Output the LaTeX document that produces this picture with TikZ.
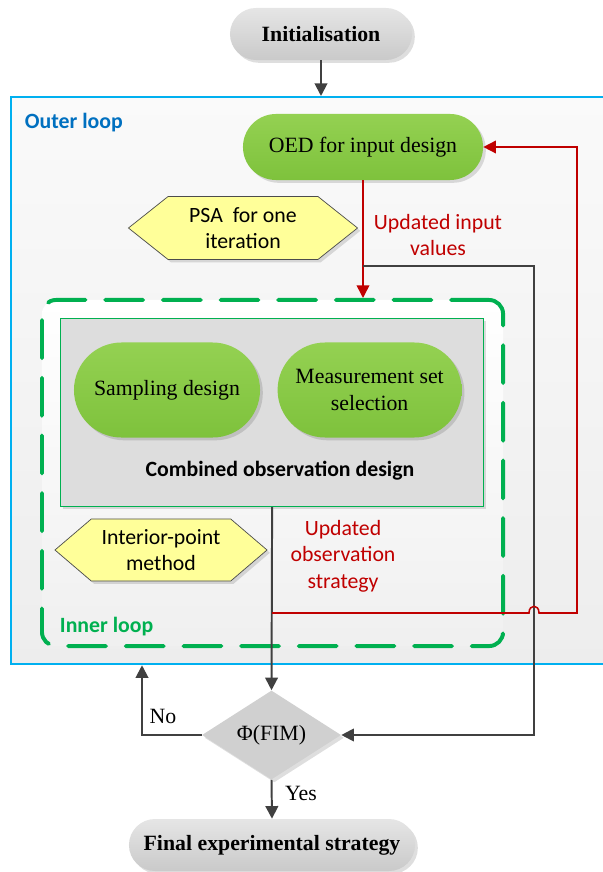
\documentclass[tikz,border=0pt]{standalone}
\usepackage{fontspec}
\setmainfont{Liberation Serif}
\setsansfont{Carlito}
\usepackage{tikz}
\usetikzlibrary{arrows.meta}
\usetikzlibrary{positioning}
\usetikzlibrary{shapes.misc}
\usetikzlibrary{shapes.geometric}
\usetikzlibrary{shapes.symbols}
\usetikzlibrary{shadows}
\definecolor{outerblue}{RGB}{0,176,240}
\definecolor{labelblue}{RGB}{0,112,192}
\definecolor{innergreen}{RGB}{0,176,80}
\definecolor{pilltop}{RGB}{148,209,82}
\definecolor{pillbottom}{RGB}{126,194,60}
\definecolor{loopred}{RGB}{192,0,0}
\definecolor{linegray}{RGB}{64,64,64}
\definecolor{hexyellow}{RGB}{255,255,153}
\newcommand{\dsize}{\fontsize{15.5}{18.8}\selectfont}

\begin{document}
\begin{tikzpicture}[x=0.025cm, y=-0.025cm,
    softshadow/.style={drop shadow={shadow xshift=2pt, shadow yshift=-2pt, fill=black, opacity=.13}},
    pill/.style={rounded rectangle, align=center, inner sep=0pt, softshadow, font=\dsize},
    graypill/.style={pill, top color=gray!20, bottom color=gray!42, font=\dsize\bfseries, minimum height=1.3cm},
    greenpill/.style={pill, top color=pilltop, bottom color=pillbottom},
    hexa/.style={signal, signal to=west and east, draw=gray!60!black, line width=0.5pt, fill=hexyellow, align=center, inner sep=0pt, softshadow, font=\dsize\sffamily},
    redtxt/.style={align=center, text=loopred, font=\dsize\sffamily},
    looplbl/.style={anchor=west, font=\dsize\sffamily\bfseries},
    flow/.style={linegray, line width=1.4pt, -{Triangle[length=9pt, width=9pt]}},
    redflow/.style={loopred, line width=1.1pt, -{Triangle[length=9pt, width=9pt]}}]
    \useasboundingbox (0,0) rectangle (603,872);

    \node[draw=outerblue, line width=1.5pt, top color=white!98!black, bottom color=white!93!black,
        minimum width=15.25cm, minimum height=14.175cm, anchor=north west] (outer) at (10,96) {};
    \node[looplbl, text=labelblue] (outerlbl) at (20,123) {Outer loop};

    \node[graypill, minimum width=4.55cm] (init) at (321,34) {Initialisation};
    \node[greenpill, minimum width=6cm, minimum height=1.65cm] (oed) at (363,147) {OED for input design};
    \node[hexa, minimum width=5.725cm, minimum height=1.575cm, signal pointer angle=77] (psa) at (243,228) {PSA\ \ for one\\iteration};
    \node[redtxt] (inputlbl) at (438,235) {Updated input\\values};

    \node[draw=innergreen, line width=2.8pt, dash pattern=on 27pt off 14pt, line cap=round, rounded corners=0.35cm,
        top color=white, bottom color=white!94!black,
        minimum width=11.525cm, minimum height=8.65cm, anchor=north west] (inner) at (40,298) {};
    \node[draw=innergreen, line width=0.8pt, fill=gray!27, softshadow,
        minimum width=10.575cm, minimum height=4.7cm, anchor=north west] (comb) at (60,318) {};
    \node[greenpill, minimum width=4.65cm, minimum height=2.375cm] (samp) at (167,390) {Sampling design};
    \node[greenpill, minimum width=4.6cm, minimum height=2.375cm, right=0.425cm of samp] (meas) {Measurement set\\selection};
    \node[font=\dsize\sffamily\bfseries] (combtxt) at (280,471) {Combined observation design};

    \node[hexa, minimum width=5.3cm, minimum height=1.55cm, signal pointer angle=81] (ipm) at (161,550) {Interior-point\\method};
    \node[redtxt] (obslbl) at (343,556) {Updated\\observation\\strategy};
    \node[looplbl, text=innergreen] (innerlbl) at (55,627) {Inner loop};

    \node[diamond, fill=gray!37, inner sep=0pt, minimum width=3.475cm, minimum height=2cm, softshadow, font=\dsize] (fim) at (271.5,735) {Φ(FIM)};
    \node[graypill, minimum width=7.15cm] (final) at (272,845) {Final experimental strategy};
    \node[font=\dsize] (nolbl) at (163,716) {No};
    \node[font=\dsize] (yeslbl) at (301,793) {Yes};

    \coordinate (tap) at (oed.south |- 0,266);
    \coordinate (gcorner) at (534,266);
    \coordinate (rstart) at (comb.south |- 0,613);
    \coordinate (noend) at (outer.south -| 142,0);

    \draw[flow] (init.south) -- (init.south |- outer.north);
    \draw[redflow] (oed.south) -- (oed.south |- inner.north);
    \draw[flow] (tap) -- (gcorner) |- (fim.east);
    \draw[flow] (comb.south) -- (fim.north);
    \draw[redflow] (rstart) -- (529,613) .. controls (529,604) and (539,604) .. (539,613) -- (577,613) |- (oed.east);
    \draw[flow] (fim.west) -| (noend);
    \draw[flow] (fim.south) -- (final.north);
\end{tikzpicture}
\end{document}
